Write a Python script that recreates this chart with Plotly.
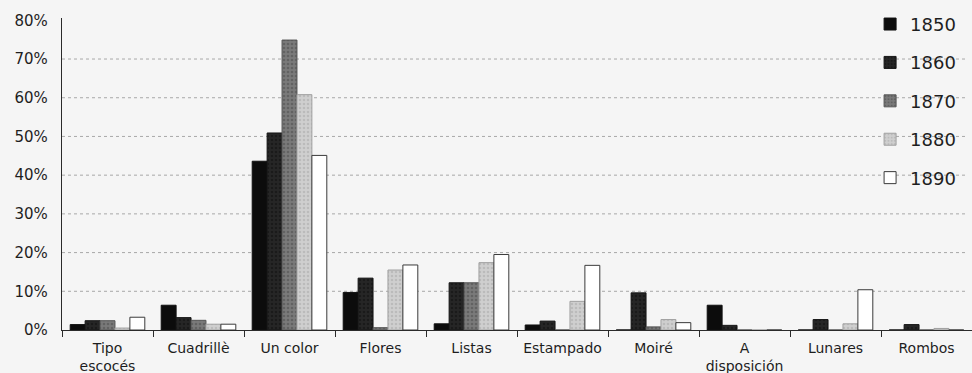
import plotly.graph_objects as go

# Share of each fabric design per decade (%)
categories = ["Tipo<br>escocés", "Cuadrillè", "Un color", "Flores", "Listas",
              "Estampado", "Moiré", "A<br>disposición", "Lunares", "Rombos"]
years = ["1850", "1860", "1870", "1880", "1890"]

v1850 = [1.4, 6.4, 43.6, 9.7, 1.6, 1.3, 0.0, 6.4, 0.0, 0.0]
v1860 = [2.4, 3.2, 50.9, 13.4, 12.2, 2.3, 9.6, 1.2, 2.7, 1.4]
v1870 = [2.4, 2.5, 74.9, 0.6, 12.2, 0.0, 0.8, 0.0, 0.0, 0.0]
v1880 = [0.5, 1.5, 60.8, 15.5, 17.4, 7.4, 2.7, 0.0, 1.6, 0.4]
v1890 = [3.3, 1.5, 45.1, 16.8, 19.5, 16.7, 1.9, 0.0, 10.4, 0.0]

series = [v1850, v1860, v1870, v1880, v1890]

y_ticks = [0, 10, 20, 30, 40, 50, 60, 70, 80]
y_labels = [f"{v}%" for v in y_ticks]
grid_levels = [10, 20, 30, 40, 50, 60, 70]

# fill, dot texture colour, outline per decade
styles = [
    dict(color="#0c0c0c", dots=None, line="#111111"),
    dict(color="#262626", dots="#0e0e0e", line="#151515"),
    dict(color="#7a7a7a", dots="#4a4a4a", line="#555555"),
    dict(color="#cfcfcf", dots="#a8a8a8", line="#a0a0a0"),
    dict(color="#ffffff", dots=None, line="#3a3a3a"),
]

FONT = "DejaVu Sans"
INK = "#1e1e1e"

fig = go.Figure()
for year, vals, st in zip(years, series, styles):
    marker = dict(color=st["color"], line=dict(color=st["line"], width=1))
    if st["dots"]:
        marker["pattern"] = dict(shape=".", fgcolor=st["dots"], bgcolor=st["color"],
                                 size=4, solidity=0.35, fillmode="overlay")
    fig.add_trace(go.Bar(name=year, x=categories, y=vals, marker=marker,
                         legendgroup=year))

for g in grid_levels:
    fig.add_shape(type="line", xref="paper", x0=0, x1=0.995, yref="y", y0=g, y1=g,
                  line=dict(color="#a8a8a8", width=1, dash="dot"), layer="below")

fig.update_layout(
    width=972, height=373,
    margin=dict(l=62, r=0, t=18, b=43),
    paper_bgcolor="#f5f5f5", plot_bgcolor="#f5f5f5",
    barmode="group", bargap=0.18, bargroupgap=0,
    font=dict(family=FONT, color=INK),
    legend=dict(
        x=0.888, xanchor="left", y=1.039, yanchor="top",
        bgcolor="rgba(0,0,0,0)", font=dict(size=18, color=INK),
        tracegroupgap=12, itemwidth=30, maxheight=373,
    ),
    showlegend=True,
)

fig.update_xaxes(
    showline=True, linecolor="#2a2a2a", linewidth=1.3,
    ticks="outside", tickson="boundaries", ticklen=6, tickcolor="#2a2a2a", tickwidth=1.3,
    tickfont=dict(size=14, color=INK), showgrid=False, ticklabelstandoff=5,
)
fig.update_yaxes(
    range=[0, 80.6], tickvals=y_ticks, ticktext=y_labels,
    showline=True, linecolor="#2a2a2a", linewidth=1.3,
    ticks="", showgrid=False, zeroline=False,
    tickfont=dict(size=15, color=INK), ticklabelstandoff=10,
)

fig.write_html("out.html")
